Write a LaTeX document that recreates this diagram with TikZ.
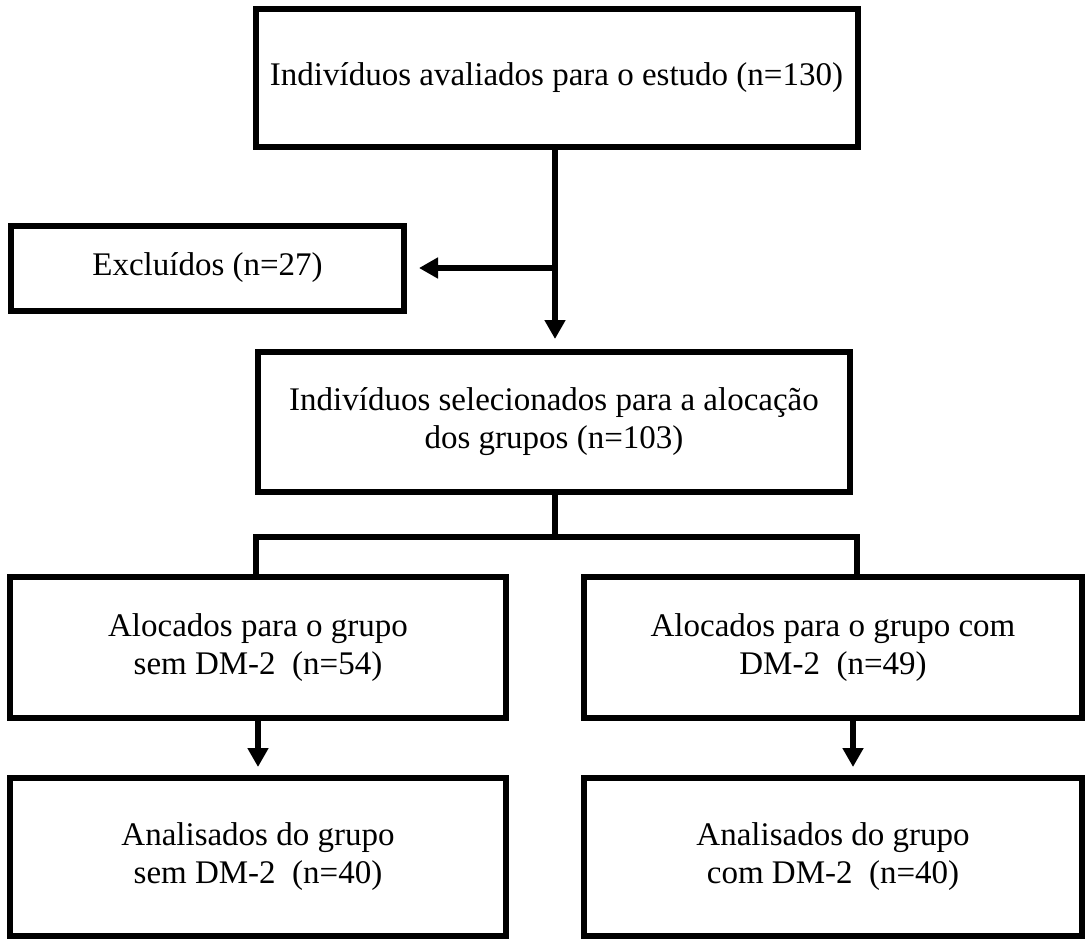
\documentclass[tikz,border=0pt]{standalone}
\usepackage{fontspec}
\setmainfont{Liberation Serif}
\usetikzlibrary{arrows.meta}
\begin{document}
\begin{tikzpicture}[x=1pt,y=-1pt,
  box/.style={draw,line width=6pt,rectangle,align=center,inner sep=0pt,
    font=\fontsize{33}{38}\selectfont},
  conn/.style={line width=6pt,line join=miter},
  arr/.style={line width=6pt,-{Triangle[length=19pt,width=20pt]}}]
\useasboundingbox (0,0) rectangle (1086,942);
\node[box,minimum width=602pt,minimum height=137pt] (b1) at (556.5,78) {Indivíduos avaliados para o estudo (n=130)};
\node[box,minimum width=393pt,minimum height=85pt] (ex) at (207.5,268) {Excluídos (n=27)};
\node[box,minimum width=592pt,minimum height=140pt] (b2) at (554,422) {Indivíduos selecionados para a alocação\\dos grupos (n=103)};
\node[box,minimum width=496pt,minimum height=141pt] (b3) at (258,647.5) {Alocados para o grupo\\sem DM-2~~(n=54)};
\node[box,minimum width=498pt,minimum height=141pt] (b4) at (833,647.5) {Alocados para o grupo com\\DM-2~~(n=49)};
\node[box,minimum width=496pt,minimum height=158pt] (b5) at (258,857) {Analisados do grupo\\sem DM-2~~(n=40)};
\node[box,minimum width=498pt,minimum height=158pt] (b6) at (833,857) {Analisados do grupo\\com DM-2~~(n=40)};
% main vertical
\coordinate (top) at (555,146.5);
\draw[arr,shorten >=10pt] (top) -- (top |- b2.north);
\coordinate (jx) at (top |- ex.east);
\draw[arr,shorten >=12pt] (jx) -- (ex.east);
% bracket
\coordinate (brc) at (555,537);
\coordinate (bl) at (256,537);
\coordinate (brr) at (857,537);
\draw[conn] (b2.south -| brc) -- (brc);
\draw[conn] (bl |- b3.north) -- (bl) -- (brr) -- (brr |- b4.north);
% lower arrows
\draw[arr,shorten >=8pt] (b3.south) -- (b5.north);
\coordinate (ra) at (853,718);
\draw[arr,shorten >=8pt] (ra) -- (ra |- b6.north);
\end{tikzpicture}
\end{document}
